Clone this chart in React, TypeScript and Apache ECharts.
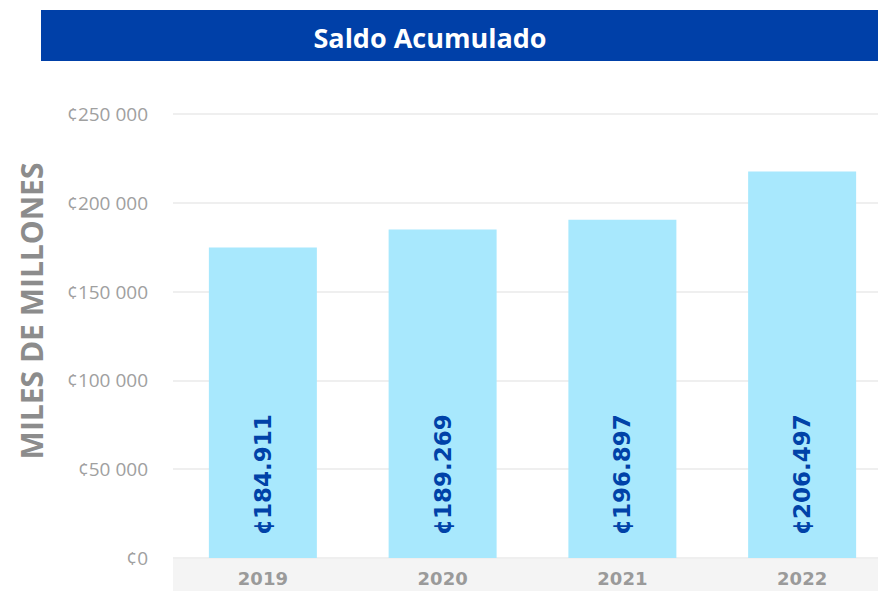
import React, { useEffect, useRef } from "react";
import * as echarts from "echarts";

const TITLE = "Saldo Acumulado";
const Y_NAME = "MILES DE MILLONES";
const categories = ["2019", "2020", "2021", "2022"];
// bar heights as drawn in the picture
const barValues = [174800, 184900, 190500, 217600];
// value labels as printed on the bars
const barLabels = ["¢184.911", "¢189.269", "¢196.897", "¢206.497"];
const yMin = 0;
const yMax = 250000;
const yInterval = 50000;

const fmtTick = (v: number) =>
  "¢" + String(v).replace(/\B(?=(\d{3})+(?!\d))/g, " ");

export default function App() {
  const ref = useRef<HTMLDivElement>(null);
  useEffect(() => {
    if (!ref.current) return;
    const chart = echarts.init(ref.current, undefined, { renderer: "svg" });
    chart.setOption({
      animation: false,
      backgroundColor: "#ffffff",
      grid: { left: 173, right: 0, top: 114, bottom: 33, containLabel: false },
      graphic: [
        {
          type: "rect",
          left: 41,
          top: 10,
          shape: { width: 837, height: 51 },
          style: { fill: "#0040a8" },
          z: 0,
        },
        {
          type: "text",
          x: 430,
          y: 37,
          style: {
            text: TITLE,
            fill: "#ffffff",
            font: "bold 27px 'Open Sans'",
            align: "center",
            verticalAlign: "middle",
          },
          z: 1,
        },
        {
          type: "rect",
          left: 173,
          top: 558,
          shape: { width: 719, height: 33 },
          style: { fill: "#f4f4f4" },
          z: -1,
        },
        {
          type: "text",
          x: 31,
          y: 311,
          rotation: Math.PI / 2,
          style: {
            text: Y_NAME,
            fill: "#8c8c8c",
            font: "bold 30px 'Open Sans'",
            align: "center",
            verticalAlign: "middle",
          },
        },
      ],
      xAxis: {
        type: "category",
        data: categories,
        axisLine: { show: false },
        axisTick: { show: false },
        axisLabel: {
          color: "#9a9a9a",
          fontFamily: "DejaVu Sans",
          fontWeight: "bold",
          fontSize: 18,
          margin: 11,
          verticalAlign: "top",
        },
      },
      yAxis: {
        type: "value",
        min: yMin,
        max: yMax,
        interval: yInterval,
        axisLine: { show: false },
        axisTick: { show: false },
        splitLine: { lineStyle: { color: "#efefef", width: 2 } },
        axisLabel: {
          formatter: fmtTick,
          color: "#a0a0a0",
          fontFamily: "'Open Sans'",
          fontSize: 19,
          margin: 25,
        },
      },
      series: [
        {
          type: "bar",
          data: barValues,
          barWidth: 108,
          itemStyle: { color: "#a8e8fd" },
          label: {
            show: true,
            position: "insideBottom",
            rotate: 90,
            align: "left",
            verticalAlign: "middle",
            distance: 23,
            formatter: (p: any) => barLabels[p.dataIndex],
            color: "#0042a8",
            fontFamily: "DejaVu Sans",
            fontWeight: "bold",
            fontSize: 23,
          },
        },
      ],
    });
    return () => chart.dispose();
  }, []);
  return (
    <div
      style={{
        position: "absolute",
        left: 0,
        top: 0,
        width: 878,
        height: 591,
        overflow: "hidden",
      }}
    >
      <div ref={ref} style={{ width: 892, height: 591 }} />
    </div>
  );
}
